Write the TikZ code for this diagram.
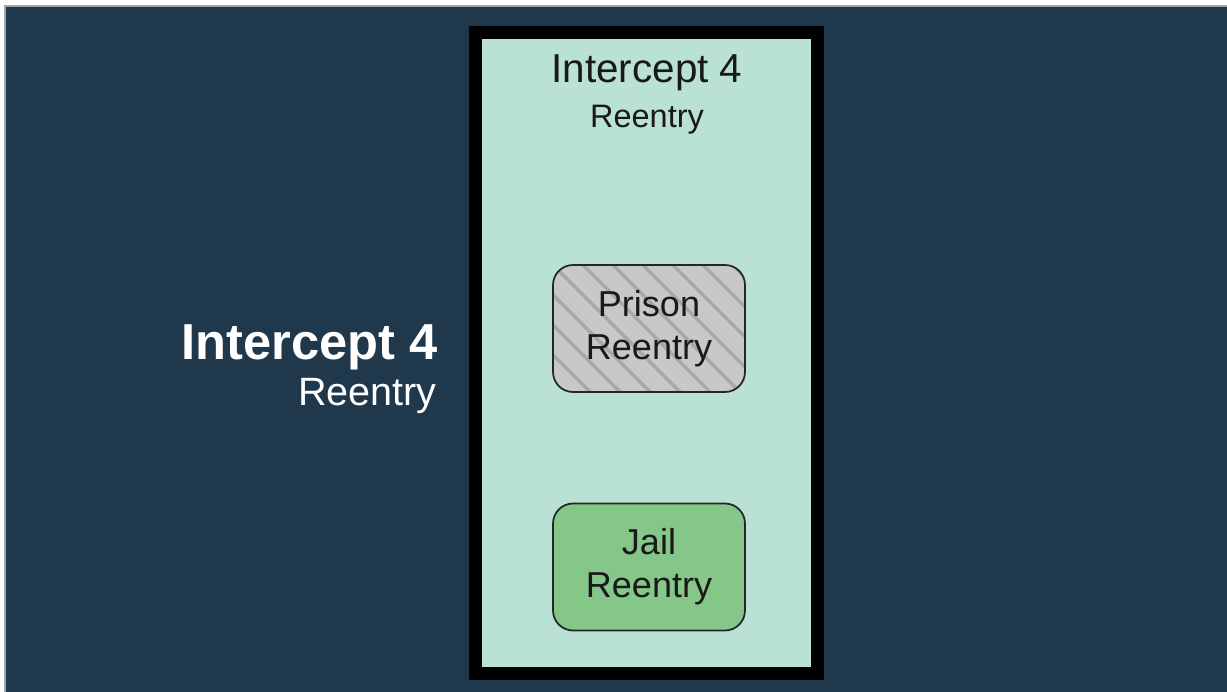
\documentclass[tikz,border=0pt]{standalone}
\usepackage{fontspec}
\setmainfont{Liberation Sans}
\usetikzlibrary{positioning}
\definecolor{navy bg}{HTML}{1F384C}
\definecolor{mint}{HTML}{BAE1D5}
\definecolor{prison gray}{HTML}{C8C8CA}
\definecolor{stripe gray}{HTML}{A8A8AA}
\definecolor{jail green}{HTML}{84C788}
\tikzset{
    frame box/.style={% thick black frame round the intercept
        draw=black, line width=0.26cm, fill=mint, inner sep=0pt,
        minimum width=6.84cm, minimum height=12.82cm},
    reentry box/.style={% rounded box for one program
        draw=black!85, line width=1pt, rounded corners=0.4cm, fill=#1,
        minimum width=3.84cm, minimum height=2.54cm, align=center,
        text=black!90, font=\fontsize{20.5}{24.5}\selectfont},
    hatched/.style={% diagonal stripes over the fill
        path picture={\foreach \k in {-6,...,8}
            \draw[stripe gray, line width=2pt]
                ([xshift=\k*0.6cm]path picture bounding box.north west) -- ++(3cm,-3cm);}},
    title/.style={anchor=base, inner sep=0pt, text=black!90, font=\fontsize{#1}{#1}\selectfont},
    side title/.style={anchor=base east, inner sep=0pt, text=white, font=\fontsize{#1}{#1}\selectfont}
}

\begin{document}
\begin{tikzpicture}[x=0.02cm, y=-0.02cm]
\useasboundingbox (0,0) rectangle (1227,692);
\fill[white] (0,0) rectangle (1227,692);
\draw[fill=navy bg, draw=gray!70, line width=0.6pt] (5,6) rectangle (1228,693);
% intercept frame
\node[frame box] (intercept) at (646.5,353) {};
\node[title=23] (intercept title) at (647,83) {Intercept 4};
\node[title=18.5] (intercept sub) at (647,128) {Reentry};
% programs
\node[reentry box=prison gray, hatched] (prison) at (649,328.5) {Prison\\Reentry};
\node[reentry box=jail green] (jail) at (649,567) {Jail\\Reentry};
% label on the left
\node[side title=28.8, font=\bfseries\fontsize{28.8}{28.8}\selectfont] (side title) at (438,359) {Intercept 4};
\node[side title=22.5] (side sub) at (437,405) {Reentry};
\end{tikzpicture}
\end{document}
